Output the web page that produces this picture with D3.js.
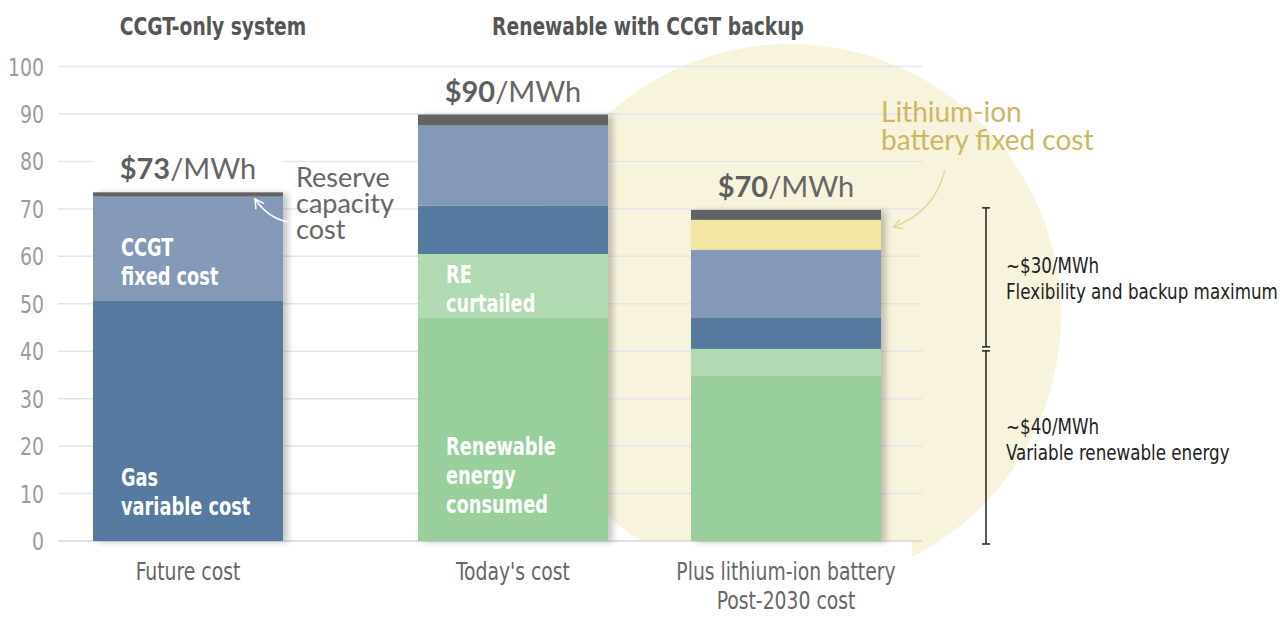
<!DOCTYPE html>
<html>
<head>
<meta charset="utf-8">
<script src="https://cdn.jsdelivr.net/npm/d3@7"></script>
<style>
body { margin: 0; background: #fff; }
text { font-family: "Liberation Sans Narrow", "DejaVu Sans Condensed", "DejaVu Sans", sans-serif; }
.plain { font-family: Lato, "Open Sans", sans-serif; }
</style>
</head>
<body>
<div id="chart"></div>
<script>
// bars and their groups
const categories = ["Future cost", "Today's cost", "Plus lithium-ion battery"];
const subLabels = ["", "", "Post-2030 cost"];
const groupNames = ["CCGT-only system", "Renewable with CCGT backup"];

// $/MWh, bottom to top
const seriesNames = ["RE consumed", "RE curtailed", "Gas variable", "CCGT fixed", "Battery fixed", "Reserve capacity"];
const reConsumed = [0, 47.0, 34.8];
const reCurtailed = [0, 13.5, 5.7];
const gasVariable = [50.6, 10.2, 6.5];
const ccgtFixed = [22.0, 16.9, 14.4];
const batteryFixed = [0, 0, 6.3];
const reserveCapacity = [0.9, 2.3, 2.1];
const totalLabels = ["$73", "$90", "$70"];

const yTicks = [0, 10, 20, 30, 40, 50, 60, 70, 80, 90, 100];

const colors = {
	"RE consumed": "#98cf9c",
	"RE curtailed": "#b1d9b2",
	"Gas variable": "#54799f",
	"CCGT fixed": "#8399b7",
	"Battery fixed": "#f3e6a2",
	"Reserve capacity": "#636365"
};

let width = 1284,
	height = 617;

let svg = d3.select('#chart')
	.append('svg')
	.attr('width', width)
	.attr('height', height)
	.style('background', 'white');

// no condensed face installed, so squeeze the glyphs horizontally
function squeeze(sel, f) {
	sel.each(function () {
		let w = this.getComputedTextLength();
		d3.select(this).attr('textLength', w * f).attr('lengthAdjust', 'spacingAndGlyphs');
	});
	return sel;
}

let y = d3.scaleLinear().domain([0, 100]).range([541, 66.6]);
let x = d3.scaleOrdinal().domain(categories).range([93, 418, 691]);
let barW = 190;
let cx = c => x(c) + barW / 2;

let rows = categories.map((c, i) => ({
	cat: c,
	"RE consumed": reConsumed[i],
	"RE curtailed": reCurtailed[i],
	"Gas variable": gasVariable[i],
	"CCGT fixed": ccgtFixed[i],
	"Battery fixed": batteryFixed[i],
	"Reserve capacity": reserveCapacity[i]
}));
let stacked = d3.stack().keys(seriesNames)(rows);
let totals = rows.map(r => d3.sum(seriesNames, k => r[k]));

// drop shadow for the bars
let defs = svg.append('defs');
defs.append('filter')
	.attr('id', 'shadow')
	.attr('x', '-10%').attr('y', '-10%').attr('width', '130%').attr('height', '120%')
	.append('feDropShadow')
	.attr('dx', 5).attr('dy', 1).attr('stdDeviation', 3)
	.attr('flood-color', '#000').attr('flood-opacity', 0.22);

function marker(id, color) {
	defs.append('marker')
		.attr('id', id)
		.attr('viewBox', '-10 -6 12 12')
		.attr('markerWidth', 12).attr('markerHeight', 12)
		.attr('markerUnits', 'userSpaceOnUse')
		.attr('orient', 'auto')
		.append('path')
		.attr('d', 'M-9,-5 L0,0 L-9,5')
		.attr('fill', 'none')
		.attr('stroke', color)
		.attr('stroke-width', 1.5);
}
marker('arrowWhite', '#ffffff');
marker('arrowGold', '#e3d8a0');

// highlight circle behind the battery bar
let circle = {x: 790, y: 315, r: 271, fill: '#f8f3dc'};
svg.append('circle')
	.attr('cx', circle.x).attr('cy', circle.y).attr('r', circle.r)
	.style('fill', circle.fill);

// white band below the baseline hides the lower part of the circle
svg.append('rect')
	.attr('x', 0).attr('y', y(0) + 1)
	.attr('width', 912).attr('height', height - y(0))
	.style('fill', 'white');

// gridlines + y labels
svg.append('g')
	.selectAll('line')
	.data(yTicks)
	.join('line')
	.attr('x1', 58).attr('x2', 922)
	.attr('y1', d => y(d)).attr('y2', d => y(d))
	.style('stroke', d => d == 0 ? '#d6d6d6' : '#e4e5ea')
	.style('stroke-width', 1.5);

squeeze(svg.append('g')
	.selectAll('text')
	.data(yTicks)
	.join('text')
	.attr('x', 44)
	.attr('y', d => y(d) + 9)
	.attr('text-anchor', 'end')
	.style('fill', '#9b9b9b')
	.style('font-size', '25px')
	.text(d => d), 0.84);

// group headers
let groupCenters = [213, 648];
squeeze(svg.selectAll('.group')
	.data(groupNames)
	.join('text')
	.attr('class', 'group')
	.attr('x', (d, i) => groupCenters[i])
	.attr('y', 35)
	.attr('text-anchor', 'middle')
	.style('fill', '#555')
	.style('font-weight', 'bold')
	.style('font-size', '25px')
	.text(d => d), 0.83);

// label backgrounds above the bars (cut the gridlines)
categories.forEach((c, i) => {
	let inCircle = Math.hypot(cx(c) - circle.x, y(totals[i]) - 20 - circle.y) < circle.r;
	svg.append('rect')
		.attr('x', x(c))
		.attr('y', y(totals[i]) - 38)
		.attr('width', barW)
		.attr('height', 37)
		.style('fill', inCircle ? circle.fill : 'white');
});

// stacked bars
let bars = svg.append('g');
categories.forEach((c, i) => {
	let g = bars.append('g').attr('filter', 'url(#shadow)');
	stacked.forEach(layer => {
		let d = layer[i];
		if (d[1] - d[0] <= 0) return;
		g.append('rect')
			.attr('x', x(c))
			.attr('y', y(d[1]))
			.attr('width', barW)
			.attr('height', y(d[0]) - y(d[1]))
			.style('fill', colors[layer.key]);
	});
});

// totals above bars
categories.forEach((c, i) => {
	let t = svg.append('text')
		.attr('class', 'plain')
		.attr('x', cx(c))
		.attr('y', y(totals[i]) - 13)
		.attr('text-anchor', 'middle')
		.style('fill', '#666')
		.style('font-size', '29px');
	t.append('tspan').style('font-weight', 'bold').style('fill', '#5f5f5f').text(totalLabels[i]);
	t.append('tspan').text('/MWh');
});

// labels inside segments: pad = distance of last baseline above segment bottom
let segLabels = [
	{bar: 0, series: "CCGT fixed", lines: ["CCGT", "fixed cost"], pad: 16},
	{bar: 0, series: "Gas variable", lines: ["Gas", "variable cost"], pad: 26},
	{bar: 1, series: "RE curtailed", lines: ["RE", "curtailed"], pad: 6},
	{bar: 1, series: "RE consumed", lines: ["Renewable", "energy", "consumed"], pad: 28}
];
segLabels.forEach(l => {
	let layer = stacked.find(s => s.key == l.series);
	let bottom = y(layer[l.bar][0]) - l.pad;
	let n = l.lines.length;
	l.lines.forEach((line, j) => {
		squeeze(svg.append('text')
			.attr('x', x(categories[l.bar]) + 28)
			.attr('y', bottom - (n - 1 - j) * 29)
			.style('fill', 'white')
			.style('font-weight', 'bold')
			.style('font-size', '25px')
			.text(line), 0.79);
	});
});

// category labels
squeeze(svg.selectAll('.cat')
	.data(categories)
	.join('text')
	.attr('class', 'cat')
	.attr('x', d => cx(d))
	.attr('y', 580)
	.attr('text-anchor', 'middle')
	.style('fill', '#666')
	.style('font-size', '24px')
	.text(d => d), 0.87);

squeeze(svg.selectAll('.sub')
	.data(subLabels)
	.join('text')
	.attr('class', 'sub')
	.attr('x', (d, i) => cx(categories[i]))
	.attr('y', 609)
	.attr('text-anchor', 'middle')
	.style('fill', '#666')
	.style('font-size', '24px')
	.text(d => d), 0.87);

// reserve capacity note
["Reserve", "capacity", "cost"].forEach((s, j) => {
	svg.append('text')
		.attr('class', 'plain')
		.attr('x', 296)
		.attr('y', 187 + j * 26)
		.style('fill', '#666')
		.style('font-size', '27px')
		.text(s);
});
svg.append('path')
	.attr('d', 'M288,222 Q268,218 255,199')
	.attr('fill', 'none')
	.attr('stroke', 'white')
	.attr('stroke-width', 1.5)
	.attr('marker-end', 'url(#arrowWhite)');

// battery note
["Lithium-ion", "battery fixed cost"].forEach((s, j) => {
	svg.append('text')
		.attr('class', 'plain')
		.attr('x', 881)
		.attr('y', 122 + j * 28)
		.style('fill', '#cbb865')
		.style('font-size', '28px')
		.text(s);
});
svg.append('path')
	.attr('d', 'M945,170 Q934,213 893,227')
	.attr('fill', 'none')
	.attr('stroke', '#e3d8a0')
	.attr('stroke-width', 1.5)
	.attr('marker-end', 'url(#arrowGold)');

// brackets on the right, from the battery bar's stack
let split = reConsumed[2] + reCurtailed[2];
let brackets = [
	{from: split, to: totals[2], lines: ["~$30/MWh", "Flexibility and backup maximum"], off: -4},
	{from: 0, to: split, lines: ["~$40/MWh", "Variable renewable energy"], off: -13}
];
let bx = 986;
brackets.forEach((b, k) => {
	let y1 = y(b.to) + (k == 1 ? 2 : -2);
	let y2 = y(b.from) + (k == 1 ? 3 : -2);
	let g = svg.append('g').style('stroke', '#222').style('stroke-width', 1.5);
	g.append('line').attr('x1', bx).attr('x2', bx).attr('y1', y1).attr('y2', y2);
	g.append('line').attr('x1', bx - 4).attr('x2', bx + 4).attr('y1', y1).attr('y2', y1);
	g.append('line').attr('x1', bx - 4).attr('x2', bx + 4).attr('y1', y2).attr('y2', y2);
	let mid = (y1 + y2) / 2;
	b.lines.forEach((s, j) => {
		squeeze(svg.append('text')
			.attr('x', 1006)
			.attr('y', mid + b.off + j * 26)
			.style('fill', '#222')
			.style('font-size', '22px')
			.text(s), 0.845);
	});
});
</script>
</body>
</html>
